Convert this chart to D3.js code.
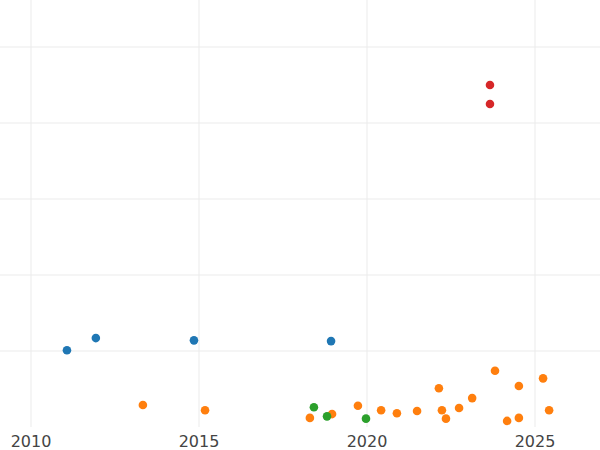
<!DOCTYPE html>
<html><head><meta charset="utf-8">
<script src="https://cdn.jsdelivr.net/npm/d3@7"></script>
<style>body{margin:0;background:#fff}</style></head>
<body><svg id="c" width="600" height="450"></svg>
<script>
const xTicks=[2010,2015,2020,2025];
const yTicks=[1,2,3,4,5];
const blueX=[2011.07,2011.93,2014.85,2018.93];
const blueY=[1.01,1.17,1.14,1.13];
const orangeX=[2013.33,2015.18,2018.30,2018.96,2019.73,2020.42,2020.89,2021.49,2022.14,2022.23,2022.35,2022.74,2023.13,2023.81,2024.17,2024.52,2024.52,2025.24,2025.42];
const orangeY=[0.29,0.22,0.12,0.17,0.28,0.22,0.18,0.21,0.51,0.22,0.11,0.25,0.38,0.74,0.08,0.54,0.12,0.64,0.22];
const greenX=[2018.42,2018.81,2019.97];
const greenY=[0.26,0.14,0.11];
const redX=[2023.66,2023.66];
const redY=[4.50,4.25];
const series=[[blueX,blueY,"#1f77b4"],[orangeX,orangeY,"#ff7f0e"],[greenX,greenY,"#2ca02c"],[redX,redY,"#d62728"]];
const svg=d3.select("#c");
const x=d3.scaleLinear().domain([2010,2025]).range([31,535]);
const y=d3.scaleLinear().domain([0,5]).range([427,47]);
svg.append("g").selectAll("line").data(yTicks).join("line")
 .attr("x1",0).attr("x2",600).attr("y1",d=>y(d)).attr("y2",d=>y(d)).attr("stroke","#ebebeb");
svg.append("g").selectAll("line").data(xTicks).join("line")
 .attr("y1",0).attr("y2",427).attr("x1",d=>x(d)).attr("x2",d=>x(d)).attr("stroke","#ebebeb");
svg.append("g").selectAll("text").data(xTicks).join("text")
 .attr("x",d=>x(d)).attr("y",447).attr("text-anchor","middle")
 .attr("font-family","DejaVu Sans").attr("font-size",16).attr("fill","#444").text(d=>d);
series.forEach(([xs,ys,c])=>{
 svg.append("g").selectAll("circle").data(xs.map((v,i)=>[v,ys[i]])).join("circle")
  .attr("cx",d=>x(d[0])).attr("cy",d=>y(d[1])).attr("r",4.3).attr("fill",c);
});
</script></body></html>
